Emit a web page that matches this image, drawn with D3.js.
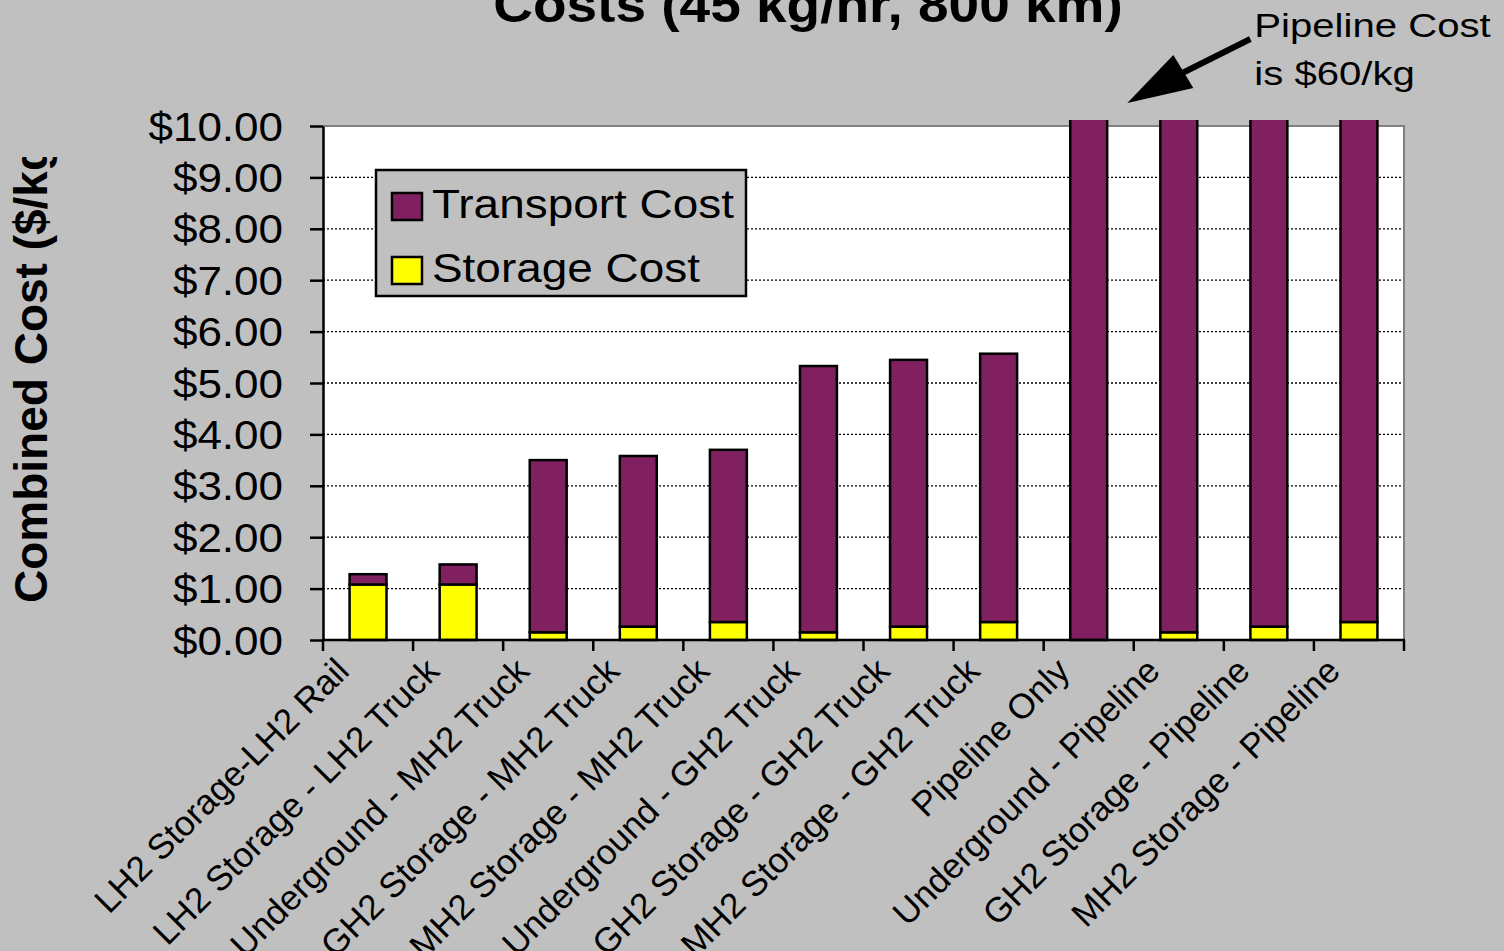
<!DOCTYPE html>
<html>
<head>
<meta charset="utf-8">
<script src="https://cdn.jsdelivr.net/npm/d3@7"></script>
<style>
  body { margin: 0; background: #c0c0c0; }
  text { font-family: "Liberation Sans", Arial, sans-serif; fill: #000; }
</style>
</head>
<body>
<div id="chart"></div>
<script>

// Data
const categories = [
  "LH2 Storage-LH2 Rail",
  "LH2 Storage - LH2 Truck",
  "Underground - MH2 Truck",
  "GH2 Storage - MH2 Truck",
  "MH2 Storage - MH2 Truck",
  "Underground - GH2 Truck",
  "GH2 Storage - GH2 Truck",
  "MH2 Storage - GH2 Truck",
  "Pipeline Only",
  "Underground - Pipeline",
  "GH2 Storage - Pipeline",
  "MH2 Storage - Pipeline"
];
const storageCost   = [1.08, 1.08, 0.15, 0.26, 0.35, 0.15, 0.26, 0.35, 0.00, 0.15, 0.26, 0.35];
const transportCost = [0.20, 0.39, 3.35, 3.32, 3.35, 5.18, 5.19, 5.22, 60.0, 60.0, 60.0, 60.0];
const yTicks = [0, 1, 2, 3, 4, 5, 6, 7, 8, 9, 10];
const seriesKeys = ["storage", "transport"];
const seriesLabels = { transport: "Transport Cost", storage: "Storage Cost" };
const seriesColors = { transport: "#802060", storage: "#ffff00" };

const width = 1504, height = 951;
const plot = { left: 323, right: 1404, top: 126, bottom: 640 };

const rows = categories.map((c, i) => ({ category: c, storage: storageCost[i], transport: transportCost[i] }));
const stacked = d3.stack().keys(seriesKeys)(rows);

const svg = d3.select("#chart")
  .append("svg")
    .attr("width", width)
    .attr("height", height);

svg.append("rect")
    .attr("width", width)
    .attr("height", height)
    .attr("fill", "#c0c0c0");

const x = d3.scaleBand()
  .domain(categories)
  .range([plot.left, plot.right])
  .paddingInner(0.59)
  .paddingOuter(0.295);

const y = d3.scaleLinear()
  .domain([0, 10])
  .range([plot.bottom, plot.top]);

const center = d => x(d) + x.bandwidth() / 2;

//Plot area
svg.append("rect")
    .attr("x", plot.left)
    .attr("y", plot.top)
    .attr("width", plot.right - plot.left)
    .attr("height", plot.bottom - plot.top)
    .attr("fill", "#fff");

//Dotted gridlines
svg.append("g")
  .selectAll("line")
  .data(yTicks.filter(d => d > 0 && d < 10))
  .join("line")
    .attr("x1", plot.left)
    .attr("x2", plot.right)
    .attr("y1", d => y(d))
    .attr("y2", d => y(d))
    .attr("stroke", "#000")
    .attr("stroke-width", 1.3)
    .attr("stroke-dasharray", "2,2");

//Grey top and right border
svg.append("path")
    .attr("d", `M${plot.left},${plot.top}H${plot.right}V${plot.bottom}`)
    .attr("fill", "none")
    .attr("stroke", "#808080")
    .attr("stroke-width", 2);

//Bars, clipped a little above the top of the plot
svg.append("clipPath")
    .attr("id", "barClip")
  .append("rect")
    .attr("x", 0)
    .attr("y", y(10) - 6)
    .attr("width", width)
    .attr("height", height);

svg.append("g")
    .attr("clip-path", "url(#barClip)")
  .selectAll("g")
  .data(stacked)
  .join("g")
    .attr("fill", s => seriesColors[s.key])
  .selectAll("rect")
  .data(s => s.filter(d => d[1] > d[0]))
  .join("rect")
    .attr("x", d => x(d.data.category))
    .attr("width", x.bandwidth())
    .attr("y", d => y(d[1]))
    .attr("height", d => y(d[0]) - y(d[1]))
    .attr("stroke", "#000")
    .attr("stroke-width", 2.5);

//Y axis
const yAxis = svg.append("g")
    .attr("transform", `translate(${plot.left},0)`)
    .call(d3.axisLeft(y)
      .tickValues(yTicks)
      .tickSize(13)
      .tickSizeOuter(0)
      .tickFormat(d3.format("$.2f")));

yAxis.select(".domain").attr("stroke", "#000").attr("stroke-width", 2.5);
yAxis.selectAll(".tick line").attr("stroke", "#000").attr("stroke-width", 2.5);
yAxis.selectAll(".tick text")
    .attr("x", null)
    .attr("dy", null)
    .attr("transform", "translate(-40,14) scale(1.1,1)")
    .attr("text-anchor", "end")
    .style("font-family", "'Liberation Sans', Arial, sans-serif")
    .style("font-size", "40px")
    .attr("fill", "#000");

//X axis line and tick marks at category boundaries
const boundaries = categories.map(c => center(c) - x.step() / 2)
  .concat([plot.right]);

svg.append("line")
    .attr("x1", plot.left - 1)
    .attr("x2", plot.right + 1)
    .attr("y1", plot.bottom)
    .attr("y2", plot.bottom)
    .attr("stroke", "#000")
    .attr("stroke-width", 2.5);

svg.append("g")
  .selectAll("line")
  .data(boundaries)
  .join("line")
    .attr("x1", d => d)
    .attr("x2", d => d)
    .attr("y1", plot.bottom)
    .attr("y2", plot.bottom + 11)
    .attr("stroke", "#000")
    .attr("stroke-width", 2.5);

svg.append("g")
  .selectAll("text")
  .data(categories)
  .join("text")
    .attr("transform", d => `translate(${center(d) - 17},673) rotate(-45)`)
    .attr("text-anchor", "end")
    .style("font-size", "35px")
    .text(d => d);

//Y axis title, clipped at the top like the original
svg.append("clipPath")
    .attr("id", "titleClip")
  .append("rect")
    .attr("x", 0)
    .attr("y", 157)
    .attr("width", 120)
    .attr("height", 600);

svg.append("g")
    .attr("clip-path", "url(#titleClip)")
  .append("text")
    .attr("transform", "translate(47,603) rotate(-90)")
    .attr("text-anchor", "start")
    .style("font-size", "46px")
    .style("font-weight", "bold")
    .text("Combined Cost ($/kg)");

//Chart title (only its last line is in view)
svg.append("text")
    .attr("transform", "translate(808,22) scale(1.1,1)")
    .attr("text-anchor", "middle")
    .style("font-size", "50px")
    .style("font-weight", "bold")
    .text("Costs (45 kg/hr, 800 km)");

//Legend
const legend = svg.append("g")
    .attr("transform", "translate(376,170)");

legend.append("rect")
    .attr("width", 370)
    .attr("height", 126)
    .attr("fill", "#c0c0c0")
    .attr("stroke", "#000")
    .attr("stroke-width", 2.5);

const legendItems = legend.selectAll(".legend-item")
  .data(["transport", "storage"])
  .join("g")
    .attr("class", "legend-item")
    .attr("transform", (d, i) => `translate(16,${23 + i * 64})`);

legendItems.append("rect")
    .attr("width", 30)
    .attr("height", 27)
    .attr("fill", d => seriesColors[d])
    .attr("stroke", "#000")
    .attr("stroke-width", 2.5);

legendItems.append("text")
    .attr("transform", "translate(40,25) scale(1.12,1)")
    .style("font-size", "41px")
    .text(d => seriesLabels[d]);

//Annotation: arrow pointing at the pipeline bars
const tipX = x(categories[9]) - 33;
const tipY = y(10) - 23;

svg.append("line")
    .attr("x1", tipX + 123)
    .attr("y1", tipY - 64)
    .attr("x2", tipX + 55)
    .attr("y2", tipY - 30)
    .attr("stroke", "#000")
    .attr("stroke-width", 6);

svg.append("path")
    .attr("d", `M${tipX},${tipY}L${tipX + 46},${tipY - 48}L${tipX + 66},${tipY - 15}Z`)
    .attr("fill", "#000");

const note = svg.append("text")
    .attr("transform", `translate(${tipX + 127},37) scale(1.18,1)`)
    .style("font-size", "34px");

note.append("tspan").attr("x", 0).attr("y", 0).text("Pipeline Cost");
note.append("tspan").attr("x", 0).attr("y", 48).text("is $60/kg");

</script>
</body>
</html>
